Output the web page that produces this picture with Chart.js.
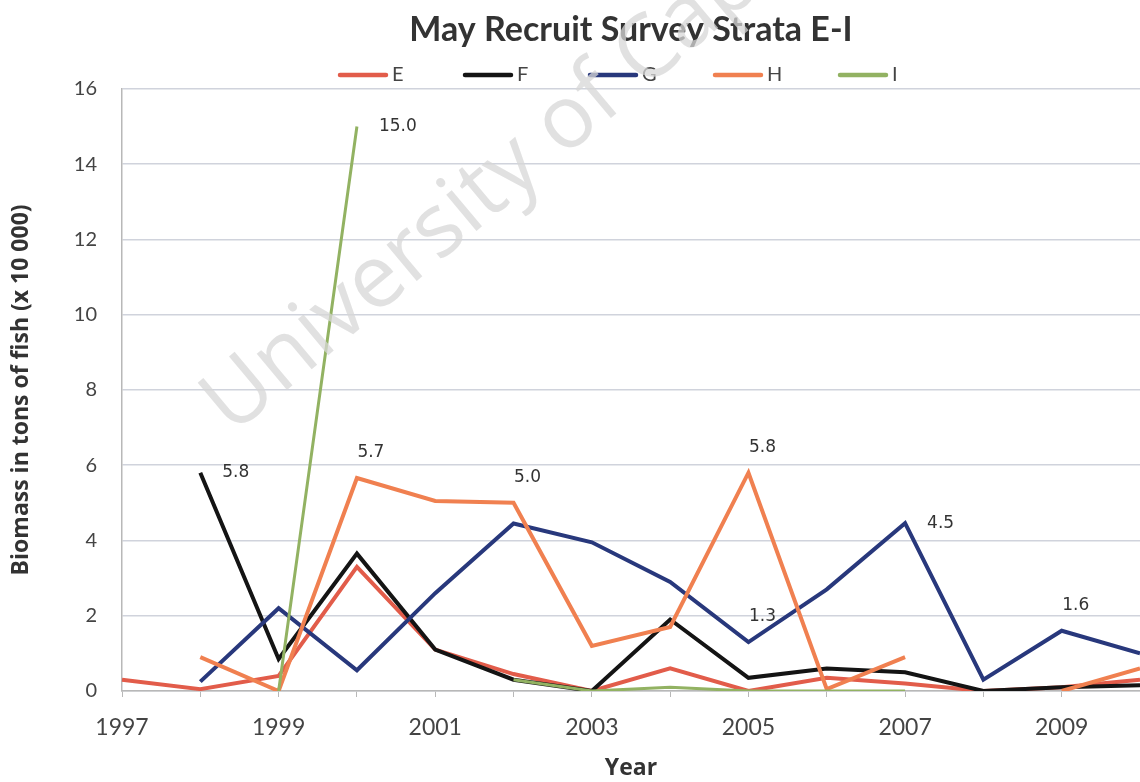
<!DOCTYPE html>
<html>
<head>
<meta charset="utf-8">
<script src="https://cdn.jsdelivr.net/npm/chart.js@4"></script>
<style>
html, body { margin: 0; padding: 0; background: #fff; overflow: hidden; }
#wrap { width: 1140px; height: 782px; position: relative; }
</style>
</head>
<body>
<div id="wrap"><canvas id="chart-canvas"></canvas></div>
<script>
//////////////////////////////////////////////////
/////       Data   //////
//////////////////////////////////////////////////

var years = ['1997', '1998', '1999', '2000', '2001', '2002', '2003', '2004', '2005', '2006', '2007', '2008', '2009', '2010'];
var seriesE = [0.3, 0.05, 0.4, 3.3, 1.1, 0.45, 0.0, 0.6, 0.0, 0.35, 0.2, 0.0, 0.1, 0.3];
var seriesF = [null, 5.8, 0.85, 3.65, 1.1, 0.3, 0.0, 1.9, 0.35, 0.6, 0.5, 0.0, 0.1, 0.15];
var seriesG = [null, 0.25, 2.2, 0.55, 2.6, 4.45, 3.95, 2.9, 1.3, 2.7, 4.46, 0.3, 1.6, 1.0];
var seriesH = [null, 0.9, 0.0, 5.66, 5.05, 5.0, 1.2, 1.7, 5.8, 0.05, 0.9, null, 0.0, 0.6];
var seriesI = [null, null, 0.0, 15.0, null, 0.3, 0.0, 0.1, 0.0, 0.0, 0.0, null, null, null];
var yTicks = [0, 2, 4, 6, 8, 10, 12, 14, 16];

// values that carry a number label on the plot
var pointLabels = [
    { series: 'F', year: '1998', side: 'right' },
    { series: 'I', year: '2000', side: 'right' },
    { series: 'H', year: '2000', side: 'above' },
    { series: 'H', year: '2002', side: 'above' },
    { series: 'H', year: '2005', side: 'above' },
    { series: 'G', year: '2005', side: 'above' },
    { series: 'G', year: '2007', side: 'right' },
    { series: 'G', year: '2009', side: 'above' }
];

//////////////////////////////////////////////////
/////       Plugins                      /////////
//////////////////////////////////////////////////

var labelPlugin = {
    id: 'pointLabels',
    afterDatasetsDraw: function (chart) {
        var ctx = chart.ctx;
        ctx.save();
        ctx.font = '17px "DejaVu Sans"';
        ctx.fillStyle = '#333';
        ctx.textBaseline = 'middle';
        pointLabels.forEach(function (lb) {
            var di = chart.data.datasets.findIndex(function (d) { return d.label === lb.series; });
            var idx = years.indexOf(lb.year);
            var pt = chart.getDatasetMeta(di).data[idx];
            var val = chart.data.datasets[di].data[idx];
            var txt = val.toFixed(1);
            if (lb.side === 'right') {
                ctx.textAlign = 'left';
                ctx.fillText(txt, pt.x + 22, pt.y);
            } else {
                ctx.textAlign = 'center';
                ctx.fillText(txt, pt.x + 14, pt.y - 25);
            }
        });
        ctx.restore();
    }
};

// legend drawn by hand so the items sit one line under the title, evenly spaced
var legendPlugin = {
    id: 'lineLegend',
    afterDraw: function (chart) {
        var ctx = chart.ctx;
        var x = chart.chartArea.left + 218;
        var y = 75;
        ctx.save();
        ctx.font = '20px Lato';
        ctx.textBaseline = 'middle';
        ctx.textAlign = 'left';
        chart.data.datasets.forEach(function (ds) {
            ctx.strokeStyle = ds.borderColor;
            ctx.lineWidth = 4.5;
            ctx.lineCap = 'round';
            ctx.beginPath();
            ctx.moveTo(x, y);
            ctx.lineTo(x + 46, y);
            ctx.stroke();
            ctx.fillStyle = '#444';
            ctx.fillText(ds.label, x + 52, y);
            x += 125;
        });
        ctx.restore();
    }
};

var watermarkPlugin = {
    id: 'watermark',
    afterDraw: function (chart) {
        var ctx = chart.ctx;
        ctx.save();
        ctx.translate(232, 436);
        ctx.rotate(-40 * Math.PI / 180);
        ctx.font = '88px "Open Sans"';
        ctx.fillStyle = 'rgba(215,215,215,0.75)';
        ctx.textBaseline = 'alphabetic';
        ctx.fillText('University of Cape Town', 0, 0);
        ctx.restore();
    }
};

//////////////////////////////////////////////////
/////       Chart                        /////////
//////////////////////////////////////////////////

function makeSet(name, values, color, width, order) {
    return {
        label: name,
        data: values,
        borderColor: color,
        backgroundColor: color,
        borderWidth: width,
        pointRadius: 0,
        lineTension: 0,
        fill: false,
        spanGaps: false,
        order: order
    };
}

var ctx = document.getElementById('chart-canvas').getContext('2d');
var myChart = new Chart(ctx, {
    type: 'line',
    data: {
        labels: years,
        datasets: [
            makeSet('E', seriesE, 'rgb(226,92,74)', 4, 5),
            makeSet('F', seriesF, 'rgb(20,20,20)', 4, 4),
            makeSet('G', seriesG, 'rgb(40,56,124)', 4, 3),
            makeSet('H', seriesH, 'rgb(240,128,80)', 4, 2),
            makeSet('I', seriesI, 'rgb(146,178,98)', 3, 1)
        ]
    },
    options: {
        responsive: true,
        maintainAspectRatio: false,
        animation: false,
        layout: { padding: { left: 0, right: 0, top: 0, bottom: 0 } },
        plugins: {
            title: {
                display: true,
                text: 'May Recruit Survey Strata E-I',
                color: '#333',
                fullSize: false,
                font: { family: 'Lato', size: 34, weight: 'bold' },
                padding: { top: 10, bottom: 38 }
            },
            legend: { display: false },
            tooltip: { enabled: false }
        },
        scales: {
            x: {
                offset: false,
                grid: { display: true, drawOnChartArea: false, tickLength: 6, color: '#b8b8b8' },
                border: { color: '#b8b8b8', width: 1.5 },
                ticks: {
                    autoSkip: false,
                    maxRotation: 0,
                    padding: 17,
                    color: '#444',
                    font: { family: 'Lato', size: 23 },
                    callback: function (v, i) { return i % 2 === 0 ? years[i] : ''; }
                },
                title: {
                    display: true,
                    text: 'Year',
                    color: '#333',
                    font: { family: 'Open Sans', size: 23, weight: 'bold' },
                    padding: { top: 0, bottom: 0 }
                },
                afterFit: function (scale) {
                    scale.height = 91;
                    scale.paddingLeft = 0;
                    scale.paddingRight = 0;
                }
            },
            y: {
                min: 0,
                max: 16,
                afterBuildTicks: function (scale) {
                    scale.ticks = yTicks.map(function (v) { return { value: v }; });
                },
                grid: { color: '#d0d3dc', lineWidth: 1.5, drawTicks: false },
                border: { color: '#b8b8b8', width: 1.5 },
                ticks: {
                    padding: 25,
                    color: '#444',
                    font: { family: 'Lato', size: 20 }
                },
                title: {
                    display: true,
                    text: 'Biomass in tons of fish (x 10 000)',
                    color: '#333',
                    font: { family: 'Open Sans', size: 23, weight: 'bold' },
                    padding: { top: 8, bottom: 0 }
                },
                afterFit: function (scale) { scale.width = 122; }
            }
        }
    },
    plugins: [labelPlugin, legendPlugin, watermarkPlugin]
});
</script>
</body>
</html>
